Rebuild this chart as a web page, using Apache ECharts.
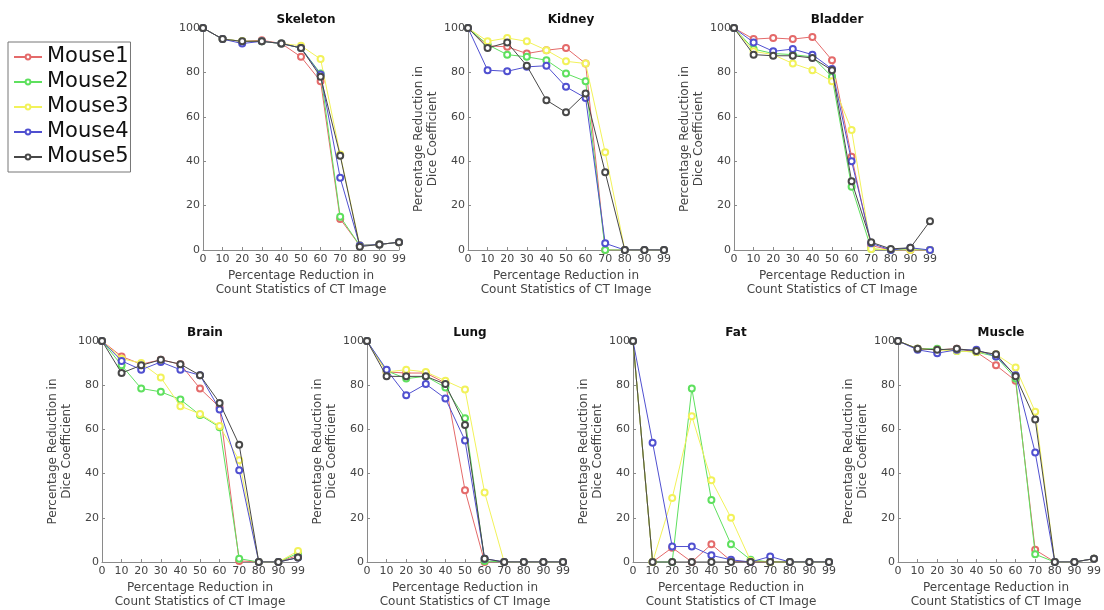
<!DOCTYPE html>
<html>
<head>
<meta charset="utf-8">
<script src="https://cdn.jsdelivr.net/npm/echarts@6/dist/echarts.min.js"></script>
<style>
html,body{margin:0;padding:0;background:#fff;}
#chart{width:1104px;height:610px;}
</style>
</head>
<body>
<div id="chart"></div>
<script>
const xLabels = ['0','10','20','30','40','50','60','70','80','90','99'];
const yTicks = [0, 20, 40, 60, 80, 100];
const mouseNames = ['Mouse1','Mouse2','Mouse3','Mouse4','Mouse5'];
const organNames = ['Skeleton','Kidney','Bladder','Brain','Lung','Fat','Muscle'];

// each row: Mouse1..Mouse5
const skeleton = [
  [100,95,94,94.5,93,87,76,14,2,2.5,3.5],
  [100,95,94,94,93,91,79.5,15,2,2.5,3.5],
  [100,95,94,94,93,92,86,43,2,2.5,3.5],
  [100,95,93,94,93,91,79,32.5,2,2.5,3.5],
  [100,95,94,94,93,91,78,42.5,1.5,2.5,3.5]
];
const kidney = [
  [100,92,91.5,88.5,90,91,84,0,0,0,0],
  [100,92.5,88,87,85.5,79.5,76,0,0,0,0],
  [100,94,95.5,94,90,85,84,44,0,0,0],
  [100,81,80.5,82.5,83,73.5,68.5,3,0,0,0],
  [100,91,93.5,83,67.5,62,70.5,35,0,0,0]
];
const bladder = [
  [100,95,95.5,95,96,85.5,42,2,0,0,0],
  [100,90.5,88.5,88,87,78,28.5,0.5,0,0.5,0],
  [100,89.5,88,84,81,76,54,0.5,0,0,0],
  [100,93.5,89.5,90.5,88,81.5,40,3,0,1,0],
  [100,88,87.5,87.5,86.5,81,31,3.5,0.5,1,13]
];
const brain = [
  [100,93,89.5,91.5,89.5,78.5,70,0.5,0,0,3],
  [100,89,78.5,77,73.5,66.5,61,1.5,0,0,4],
  [100,92,90,83.5,70.5,67,61.5,46,0,0,5],
  [100,91,87,90.5,87,84.5,69,41.5,0,0,2],
  [100,85.5,89,91.5,89.5,84.5,72,53,0,0,2]
];
const lung = [
  [100,86,85.5,85.5,81,32.5,0,0,0,0,0],
  [100,86.5,83,84,79,65,0.5,0,0,0,0],
  [100,86,87,86,82,78,31.5,0,0,0,0],
  [100,87,75.5,80.5,74,55,1.5,0,0,0,0],
  [100,84,84,84,80.5,62,1.5,0,0,0,0]
];
const fat = [
  [100,0,6.5,0,8,0.5,0,0,0,0,0],
  [100,0,0,78.5,28,8,1,0,0,0,0],
  [100,0,29,66,37,20,0.5,0,0,0,0],
  [100,54,7,7,3,1,0,2.5,0,0,0],
  [100,0,0,0,0,0,0,0,0,0,0]
];
const muscle = [
  [100,96.5,96,96.5,95,89,82,5.5,0,0,1.5],
  [100,96.5,96.5,95.5,95,93,83,3.5,0,0,1.5],
  [100,96.5,96,95.5,95,94,88,68,0,0,1.5],
  [100,96,94.5,96,96,93,84.5,49.5,0,0,1.5],
  [100,96.5,96,96.5,95.5,94,84,64.5,0,0,1.5]
];
const organData = [skeleton, kidney, bladder, brain, lung, fat, muscle];

const colors = ['#e46a6a','#5ee05e','#f2f25a','#5050d0','#484848'];
const FONT = 'DejaVu Sans';
const gridBoxes = [
  {left:203, top:28, width:196, height:222},
  {left:468, top:28, width:196, height:222},
  {left:734, top:28, width:196, height:222},
  {left:102, top:341, width:196, height:223},
  {left:367, top:341, width:196, height:223},
  {left:633, top:341, width:196, height:223},
  {left:898, top:341, width:196, height:223}
];
const axisColor = '#8a8a8a';
const labelColor = '#444';

const grids = [], xAxes = [], yAxes = [], titles = [], series = [];
gridBoxes.forEach((g, i) => {
  grids.push({left:g.left, top:g.top, width:g.width, height:g.height, containLabel:false});
  titles.push({
    text: organNames[i], left: g.left + g.width/2, top: g.top - 19, textAlign: 'center',
    textStyle: {fontFamily: FONT, fontSize: 12, fontWeight: 'bold', color: '#111'}
  });
  xAxes.push({
    gridIndex: i, type: 'category', data: xLabels, boundaryGap: false,
    axisLine: {lineStyle: {color: axisColor, width: 1}},
    axisTick: {show: true, inside: true, length: 3, lineStyle: {color: axisColor}},
    axisLabel: {fontFamily: FONT, fontSize: 11, color: labelColor, margin: 4, interval: 0},
    splitLine: {show: false},
    name: 'Percentage Reduction in\nCount Statistics of CT Image',
    nameLocation: 'middle', nameGap: 19,
    nameTextStyle: {fontFamily: FONT, fontSize: 12, color: labelColor, lineHeight: 14}
  });
  const y = {
    gridIndex: i, type: 'value', min: yTicks[0], max: yTicks[yTicks.length-1], interval: 20,
    axisLine: {show: true, lineStyle: {color: axisColor, width: 1}},
    axisTick: {show: true, inside: true, length: 3, lineStyle: {color: axisColor}},
    axisLabel: {fontFamily: FONT, fontSize: 11, color: labelColor, margin: 3},
    splitLine: {show: false}
  };
  if (i !== 0) {
    y.name = 'Percentage Reduction in\nDice Coefficient';
    y.nameLocation = 'middle';
    y.nameGap = 28;
    y.nameRotate = 90;
    y.nameTextStyle = {fontFamily: FONT, fontSize: 12, color: labelColor, lineHeight: 14};
  }
  yAxes.push(y);
  organData[i].forEach((vals, k) => {
    series.push({
      type: 'line', name: mouseNames[k], xAxisIndex: i, yAxisIndex: i,
      data: vals, symbol: 'emptyCircle', symbolSize: 6,
      lineStyle: {width: 1, color: colors[k]},
      itemStyle: {color: colors[k], borderColor: colors[k], borderWidth: 1},
      emphasis: {disabled: true}, z: 2 + k
    });
  });
});

const chart = echarts.init(document.getElementById('chart'), null, {renderer: 'canvas'});
chart.setOption({
  animation: false,
  backgroundColor: '#ffffff',
  title: titles,
  legend: {
    data: mouseNames, orient: 'vertical', left: 8, top: 42,
    backgroundColor: '#fff', borderColor: '#777', borderWidth: 1,
    padding: [4, 2, 4, 5], itemGap: 3, itemWidth: 28, itemHeight: 6, itemTextGap: 0,
    textStyle: {fontFamily: FONT, fontSize: 21, color: '#111', lineHeight: 22}
  },
  grid: grids,
  xAxis: xAxes,
  yAxis: yAxes,
  series: series
});
</script>
</body>
</html>
